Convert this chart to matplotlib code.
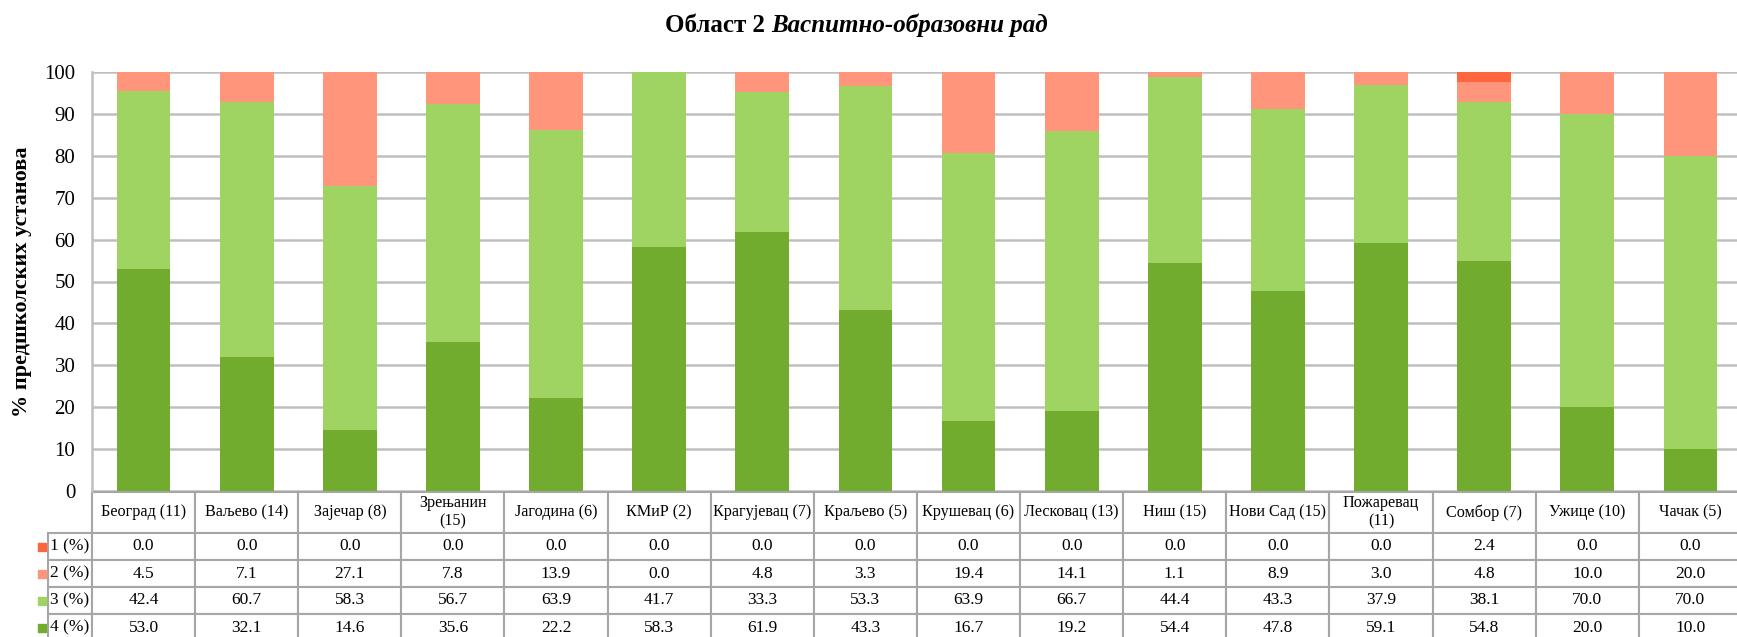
import matplotlib.pyplot as plt
from matplotlib.patches import Rectangle

plt.rcParams['font.family'] = ['Liberation Serif', 'DejaVu Sans']

# подаци
okruzi = ['Београд (11)', 'Ваљево (14)', 'Зајечар (8)', 'Зрењанин\n(15)', 'Јагодина (6)',
          'КМиР (2)', 'Крагујевац (7)', 'Краљево (5)', 'Крушевац (6)', 'Лесковац (13)',
          'Ниш (15)', 'Нови Сад (15)', 'Пожаревац\n(11)', 'Сомбор (7)', 'Ужице (10)', 'Чачак (5)']
ocena1 = [0.0, 0.0, 0.0, 0.0, 0.0, 0.0, 0.0, 0.0, 0.0, 0.0, 0.0, 0.0, 0.0, 2.4, 0.0, 0.0]
ocena2 = [4.5, 7.1, 27.1, 7.8, 13.9, 0.0, 4.8, 3.3, 19.4, 14.1, 1.1, 8.9, 3.0, 4.8, 10.0, 20.0]
ocena3 = [42.4, 60.7, 58.3, 56.7, 63.9, 41.7, 33.3, 53.3, 63.9, 66.7, 44.4, 43.3, 37.9, 38.1, 70.0, 70.0]
ocena4 = [53.0, 32.1, 14.6, 35.6, 22.2, 58.3, 61.9, 43.3, 16.7, 19.2, 54.4, 47.8, 59.1, 54.8, 20.0, 10.0]
redovi = ['1 (%)', '2 (%)', '3 (%)', '4 (%)']
boje = ['#FF653F', '#FF957A', '#A0D462', '#72AC2F']

W, H = 1737, 637
fig = plt.figure(figsize=(W / 100, H / 100), dpi=100)

# oblast grafika u pikselima
x0, x1, y0, y1 = 92, 1742, 72, 491
ax = fig.add_axes([x0 / W, 1 - y1 / H, (x1 - x0) / W, (y1 - y0) / H])

def ax_x(px):
    return (px - x0) / (x1 - x0)

def ax_y(py):
    return (y1 - py) / (y1 - y0)

x = range(len(okruzi))
dno = [0] * len(okruzi)
for vrednosti, boja in zip([ocena4, ocena3, ocena2, ocena1], boje[::-1]):
    ax.bar(x, vrednosti, width=0.52, bottom=dno, color=boja, zorder=3)
    dno = [d + v for d, v in zip(dno, vrednosti)]

ax.set_xlim(-0.5, len(okruzi) - 0.5)
ax.set_ylim(0, 100)
ax.set_yticks(range(0, 101, 10))
ax.set_xticks([])
ax.tick_params(axis='y', length=0, labelsize=15, pad=12)
ax.yaxis.grid(True, color='#BFBFBF', linewidth=1.8, zorder=0)
ax.set_axisbelow(True)
for s in ['top', 'right', 'bottom']:
    ax.spines[s].set_visible(False)
ax.spines['left'].set_color('#BFBFBF')
ax.spines['left'].set_linewidth(1.8)

# tabela (bbox se odnosi samo na kolone sa podacima)
tekst = [['%.1f' % v for v in red] for red in [ocena1, ocena2, ocena3, ocena4]]
lw = 60 / (x1 - x0)
visine = [41, 27, 27, 27, 27]
t_vrh = ax_y(492)
t_dno = ax_y(492 + sum(visine))
tabela = ax.table(cellText=tekst, rowLabels=redovi, colLabels=okruzi,
                  cellLoc='center', rowLoc='right',
                  bbox=[0, t_dno, 1, t_vrh - t_dno])
tabela.auto_set_font_size(False)
for (r, c), cell in tabela.get_celld().items():
    cell.set_edgecolor('#A6A6A6')
    cell.set_linewidth(1.5)
    cell.set_height(visine[r])
    cell.set_width(lw if c == -1 else 1 / len(okruzi))
    cell.get_text().set_fontsize(11.6 if r == 0 else 12.5)
    if c == -1:
        cell.PAD = 0.06

# kvadratici legende
for i, boja in enumerate(boje):
    yc = 533 + 27 * i + 13.5
    ax.add_patch(Rectangle((ax_x(38), ax_y(yc + 4)), 8 / (x1 - x0), 8 / (y1 - y0),
                           transform=ax.transAxes, color=boja, clip_on=False, zorder=5))

ax.set_ylabel('% предшколских установа', fontsize=16, fontweight='bold')
ax.yaxis.set_label_coords(ax_x(32), ax_y(282))

# naslov
t1 = fig.text(0, 1 - 25 / H, 'Област 2 ', fontsize=18, fontweight='bold', va='center')
t2 = fig.text(0, 1 - 25 / H, 'Васпитно-образовни рад', fontsize=18, fontweight='bold',
              style='italic', va='center')
fig.canvas.draw()
r = fig.canvas.get_renderer()
w1 = t1.get_window_extent(r).width
w2 = t2.get_window_extent(r).width
start = 856 - (w1 + w2) / 2
t1.set_x(start / W)
t2.set_x((start + w1) / W)

plt.savefig('out.png', dpi=100)
